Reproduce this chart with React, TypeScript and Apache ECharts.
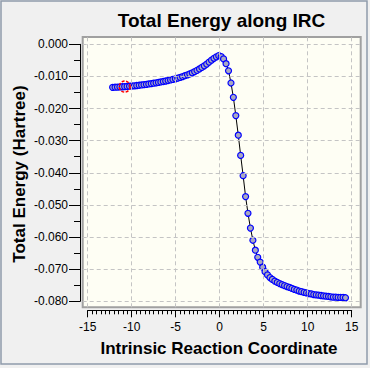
import React, { useEffect, useRef } from "react";
import * as echarts from "echarts";

const IRC_X = [
  -12.17, -11.89, -11.62, -11.34, -11.07, -10.8, -10.52, -10.25, -9.97, -9.7,
  -9.43, -9.15, -8.88, -8.6, -8.33, -8.06, -7.78, -7.51, -7.23, -6.96,
  -6.69, -6.41, -6.14, -5.86, -5.59, -5.32, -5.04, -4.77, -4.49, -4.22,
  -3.95, -3.67, -3.4, -3.12, -2.85, -2.58, -2.3, -2.03, -1.75, -1.48,
  -1.21, -0.93, -0.66, -0.38, -0.11,
  0.17, 0.44, 0.72, 1.0, 1.28, 1.55, 1.83, 2.11, 2.38, 2.66,
  2.94, 3.21, 3.49, 3.77, 4.05, 4.32, 4.6, 4.88, 5.15, 5.43,
  5.71, 5.98, 6.26, 6.54, 6.82, 7.09, 7.37, 7.65, 7.93, 8.2,
  8.48, 8.76, 9.03, 9.31, 9.59, 9.86, 10.14, 10.42, 10.69, 10.97,
  11.25, 11.52, 11.8, 12.08, 12.36, 12.63, 12.91, 13.19, 13.46, 13.74,
  14.02, 14.29,
];

const IRC_ENERGY = [
  -0.0134, -0.01336, -0.01332, -0.01327, -0.01322, -0.01317, -0.01311, -0.01305, -0.01298, -0.01291,
  -0.01283, -0.01275, -0.01266, -0.01256, -0.01246, -0.01235, -0.01224, -0.01212, -0.012, -0.01187,
  -0.01173, -0.01158, -0.01143, -0.01127, -0.0111, -0.01092, -0.01073, -0.01053, -0.01032, -0.01003,
  -0.00978, -0.0095, -0.0092, -0.00887, -0.0085, -0.0081, -0.00768, -0.0072, -0.0067, -0.00615,
  -0.00555, -0.00495, -0.00435, -0.0039, -0.00355,
  -0.00385, -0.00455, -0.00605, -0.00825, -0.01205, -0.0165, -0.0222, -0.0283, -0.0346, -0.0409,
  -0.0474, -0.0526, -0.0572, -0.061, -0.0641, -0.0663, -0.0678, -0.0694, -0.0708, -0.0718,
  -0.0726, -0.0732, -0.0737, -0.0741, -0.0745, -0.0748, -0.0751, -0.0754, -0.0757, -0.076,
  -0.0763, -0.0765, -0.0768, -0.077, -0.0772, -0.0774, -0.0776, -0.0777, -0.0779, -0.078,
  -0.0781, -0.0782, -0.0783, -0.0784, -0.0785, -0.0786, -0.0787, -0.0787, -0.0788, -0.0788,
  -0.0788, -0.0789,
];

const HIGHLIGHT_INDEX = 5;

const X_TICKS = [-15, -10, -5, 0, 5, 10, 15];
const Y_TICKS = [0, -0.01, -0.02, -0.03, -0.04, -0.05, -0.06, -0.07, -0.08];

const TITLE = "Total Energy along IRC";
const X_NAME = "Intrinsic Reaction Coordinate";
const Y_NAME = "Total Energy (Hartree)";

const FONT = 'Arial, "Liberation Sans", sans-serif';

export default function App() {
  const ref = useRef<HTMLDivElement>(null);

  useEffect(() => {
    document.body.style.margin = "0";
    if (!ref.current) return;
    const chart = echarts.init(ref.current, undefined, { renderer: "svg" });

    const points = IRC_X.map((x, i) => [x, IRC_ENERGY[i]]);
    const gridMarks = [
      ...X_TICKS.map((v) => ({ xAxis: v })),
      ...Y_TICKS.map((v) => ({ yAxis: v })),
    ];

    chart.setOption({
      animation: false,
      backgroundColor: "#f0f0f0",
      textStyle: { fontFamily: FONT },
      grid: [
        {
          left: 82.7,
          top: 37,
          width: 278,
          height: 270.3,
          show: true,
          backgroundColor: "#fefef4",
          borderColor: "#a0a0a0",
          borderWidth: 2,
        },
        {
          left: 87.7,
          top: 44.3,
          width: 264,
          height: 257,
          show: false,
        },
      ],
      xAxis: [
        {
          gridIndex: 0,
          type: "value",
          min: -15.57,
          max: 16.02,
          show: false,
          splitLine: { show: false },
        },
        {
          gridIndex: 1,
          type: "value",
          min: -15,
          max: 15,
          interval: 5,
          position: "bottom",
          offset: 9,
          axisLine: { show: true, onZero: false, lineStyle: { color: "#000", width: 1 } },
          axisTick: { show: true, length: 7, lineStyle: { color: "#000" } },
          minorTick: { show: true, splitNumber: 10, length: 4, lineStyle: { color: "#000" } },
          axisLabel: { color: "#000", fontSize: 12, margin: 11, fontFamily: FONT },
          splitLine: { show: false },
        },
      ],
      yAxis: [
        {
          gridIndex: 0,
          type: "value",
          min: -0.08187,
          max: 0.00227,
          show: false,
          splitLine: { show: false },
        },
        {
          gridIndex: 1,
          type: "value",
          min: -0.08,
          max: 0,
          interval: 0.01,
          position: "left",
          offset: 7.7,
          axisLine: { show: true, onZero: false, lineStyle: { color: "#000", width: 1 } },
          axisTick: { show: true, length: 11, lineStyle: { color: "#000" } },
          minorTick: { show: true, splitNumber: 2, length: 6, lineStyle: { color: "#000" } },
          axisLabel: {
            color: "#000",
            fontSize: 12,
            margin: 12,
            fontFamily: FONT,
            formatter: (v: number) => v.toFixed(3),
          },
          splitLine: { show: false },
        },
      ],
      series: [
        {
          type: "line",
          xAxisIndex: 0,
          yAxisIndex: 0,
          data: [],
          silent: true,
          z: 1,
          markLine: {
            silent: true,
            symbol: ["none", "none"],
            label: { show: false },
            lineStyle: { color: "#c4c4c4", width: 1, type: [4, 3] },
            emphasis: { disabled: true },
            data: gridMarks,
          },
        },
        {
          type: "line",
          xAxisIndex: 0,
          yAxisIndex: 0,
          data: points,
          z: 3,
          symbol: "circle",
          symbolSize: 6,
          showAllSymbol: true,
          lineStyle: { color: "#000", width: 1 },
          itemStyle: { color: "#a8a8c0", borderColor: "#0000ff", borderWidth: 1.2 },
        },
        {
          type: "custom",
          xAxisIndex: 0,
          yAxisIndex: 0,
          z: 20,
          zlevel: 0,
          silent: true,
          clip: false,
          data: [points[HIGHLIGHT_INDEX]],
          renderItem: (params: any, api: any) => {
            const c = api.coord([api.value(0), api.value(1)]);
            return {
              type: "circle",
              z2: 100,
              shape: { cx: c[0], cy: c[1], r: 5.5 },
              style: { fill: "none", stroke: "#ff0000", lineWidth: 1.5, lineDash: [3, 1.5] },
            };
          },
        },
      ],
      graphic: [
        {
          type: "rect",
          shape: { x: 1, y: 1, width: 366, height: 363 },
          style: { fill: "none", stroke: "#8f9bab", lineWidth: 1.5 },
          silent: true,
          z: 0,
        },
        {
          type: "text",
          x: 221.5,
          y: 20,
          style: {
            text: TITLE,
            fill: "#000",
            font: `bold 19px ${FONT}`,
            align: "center",
            verticalAlign: "middle",
          },
        },
        {
          type: "text",
          x: 219,
          y: 348,
          style: {
            text: X_NAME,
            fill: "#000",
            font: `bold 17px ${FONT}`,
            align: "center",
            verticalAlign: "middle",
          },
        },
        {
          type: "text",
          x: 19.5,
          y: 174,
          rotation: Math.PI / 2,
          style: {
            text: Y_NAME,
            fill: "#000",
            font: `bold 17px ${FONT}`,
            align: "center",
            verticalAlign: "middle",
          },
        },
      ],
    });

    return () => chart.dispose();
  }, []);

  return <div ref={ref} style={{ width: 370, height: 368 }} />;
}
